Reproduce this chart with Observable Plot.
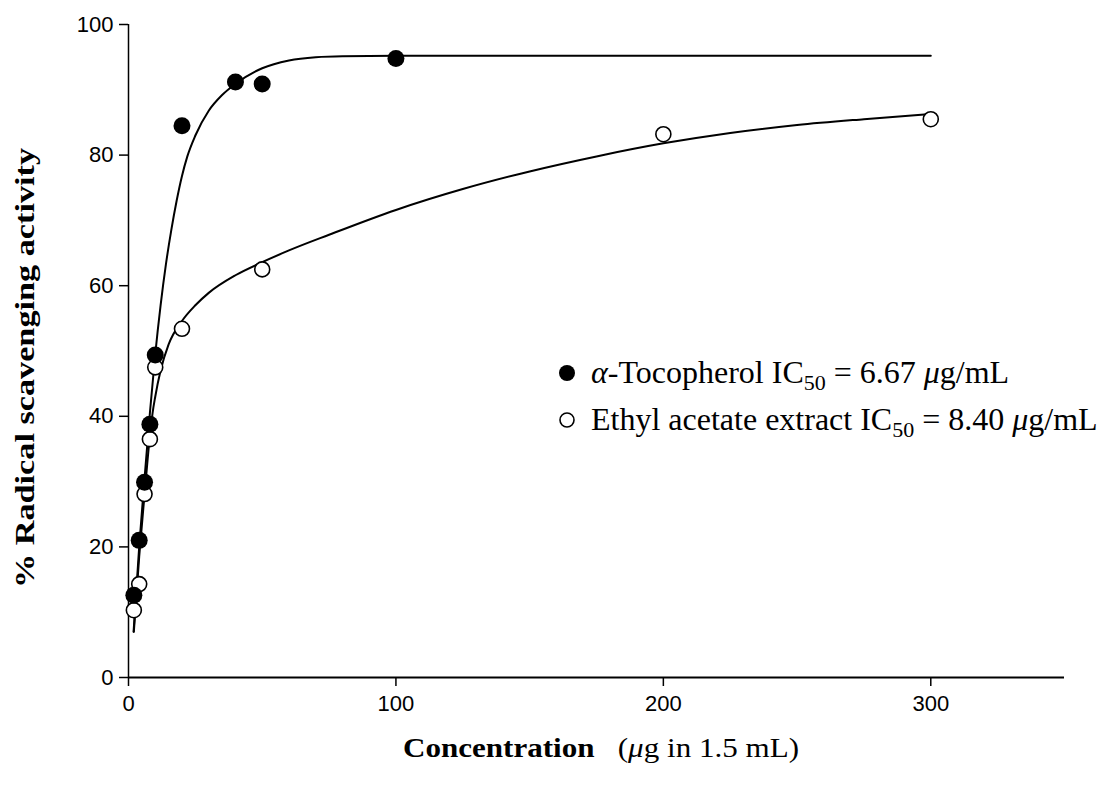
<!DOCTYPE html>
<html>
<head>
<meta charset="utf-8">
<script src="https://cdn.jsdelivr.net/npm/d3@7"></script>
<script src="https://cdn.jsdelivr.net/npm/@observablehq/plot@0.6"></script>
<style>
  html, body { margin: 0; padding: 0; background: #fff; }
  #wrap { position: relative; width: 1110px; height: 789px; }
  #overlay { position: absolute; left: 0; top: 0; pointer-events: none; }
</style>
</head>
<body>
<div id="wrap"></div>
<script>
// ---- data ----
const tocoConc = [2, 4, 6, 8, 10, 20, 40, 50, 100];
const tocoActivity = [12.6, 21.0, 29.9, 38.8, 49.4, 84.5, 91.2, 90.9, 94.8];

const ethylConc = [2, 4, 6, 8, 10, 20, 50, 200, 300];
const ethylActivity = [10.3, 14.3, 28.1, 36.5, 47.5, 53.4, 62.5, 83.2, 85.5];

// fitted curves
const tocoFitConc = [1.9, 4, 6, 8, 10, 12, 14, 16, 18, 20, 22, 25, 30, 35, 40, 50, 60, 70, 80, 100, 150, 300];
const tocoFitActivity = [7, 20, 30.5, 40.5, 49.5, 57, 63.3, 68.5, 73, 76.8, 79.8, 83, 86.8, 89.2, 90.9, 93.3, 94.5, 95.0, 95.15, 95.2, 95.2, 95.2];

const ethylFitConc = [2, 4, 6, 8, 9, 10, 12, 15, 20, 25, 30, 40, 50, 60, 75, 100, 125, 150, 175, 200, 225, 250, 275, 300];
const ethylFitActivity = [7, 18.5, 28, 37, 40.5, 43, 47, 51, 54.6, 57.0, 58.9, 61.6, 63.6, 65.4, 67.8, 71.6, 74.8, 77.5, 79.8, 81.8, 83.4, 84.6, 85.5, 86.3];

const xTicks = [0, 100, 200, 300];
const yTicks = [0, 20, 40, 60, 80, 100];

const seriesNames = ["\u03b1-Tocopherol", "Ethyl acetate extract"];
const ic50 = ["6.67", "8.40"];

const toRows = (xs, ys) => xs.map((x, i) => ({x, y: ys[i]}));

const chart = Plot.plot({
  width: 1110,
  height: 789,
  marginLeft: 128,
  marginRight: 46,
  marginTop: 24,
  marginBottom: 112,
  x: {domain: [0, 350]},
  y: {domain: [0, 100]},
  style: {fontFamily: "'Liberation Sans', Arial, sans-serif", fontSize: "22px", color: "black", background: "white"},
  marks: [
    Plot.axisX({ticks: xTicks, tickSize: 9, tickPadding: 9, label: null, strokeWidth: 1.5, fontSize: 22}),
    Plot.axisY({ticks: yTicks, tickSize: 9, tickPadding: 6, label: null, strokeWidth: 1.5, fontSize: 22}),
    Plot.ruleY([0], {stroke: "black", strokeWidth: 2}),
    Plot.ruleX([0], {y1: 0, y2: 100, stroke: "black", strokeWidth: 1.5}),
    Plot.line(toRows(tocoFitConc, tocoFitActivity), {x: "x", y: "y", curve: "monotone-x", stroke: "black", strokeWidth: 2}),
    Plot.line(toRows(ethylFitConc, ethylFitActivity), {x: "x", y: "y", curve: "monotone-x", stroke: "black", strokeWidth: 2}),
    Plot.dot(toRows(ethylConc, ethylActivity), {x: "x", y: "y", r: 7.5, fill: "white", stroke: "black", strokeWidth: 1.6}),
    Plot.dot(toRows(tocoConc, tocoActivity), {x: "x", y: "y", r: 8.5, fill: "black", stroke: "none"})
  ]
});

// enlarge tick labels
d3.select(chart).selectAll("text")
  .attr("font-size", 22)
  .style("font-size", "22px");

const wrap = document.getElementById("wrap");
wrap.appendChild(chart);

// overlay: axis titles and legend
const svg = d3.select(wrap).append("svg")
  .attr("id", "overlay").attr("width", 1110).attr("height", 789);

const serif = "'Liberation Serif', 'Times New Roman', serif";

// y title
svg.append("text")
  .attr("transform", "translate(34,368) rotate(-90)")
  .attr("text-anchor", "middle")
  .attr("font-family", serif)
  .attr("font-weight", "bold")
  .attr("font-size", 27)
  .attr("textLength", 440)
  .attr("lengthAdjust", "spacingAndGlyphs")
  .text("% Radical scavenging activity");

// x title
const xt = svg.append("text")
  .attr("x", 403).attr("y", 757)
  .attr("font-family", serif)
  .attr("font-size", 27)
  .attr("textLength", 396)
  .attr("lengthAdjust", "spacingAndGlyphs")
  .attr("xml:space", "preserve");
xt.append("tspan").attr("font-weight", "bold").text("Concentration");
xt.append("tspan").text("   (");
xt.append("tspan").attr("font-style", "italic").text("\u03bc");
xt.append("tspan").text("g in 1.5 mL)");

// legend
const legendY = [373, 420];
seriesNames.forEach((name, i) => {
  const cy = legendY[i];
  if (i === 0) {
    svg.append("circle").attr("cx", 567).attr("cy", cy).attr("r", 8).attr("fill", "black");
  } else {
    svg.append("circle").attr("cx", 567).attr("cy", cy).attr("r", 7).attr("fill", "white").attr("stroke", "black").attr("stroke-width", 1.6);
  }
  const t = svg.append("text")
    .attr("x", 591).attr("y", cy + 10)
    .attr("font-family", serif)
    .attr("font-size", 32);
  if (i === 0) {
    t.append("tspan").attr("font-style", "italic").text("\u03b1");
    t.append("tspan").text("-Tocopherol IC");
  } else {
    t.append("tspan").text(name + " IC");
  }
  t.append("tspan").attr("font-size", 22).attr("dy", 7).text("50");
  t.append("tspan").attr("dy", -7).text(" = " + ic50[i] + " ");
  t.append("tspan").attr("font-style", "italic").text("\u03bc");
  t.append("tspan").text("g/mL");
});
</script>
</body>
</html>
